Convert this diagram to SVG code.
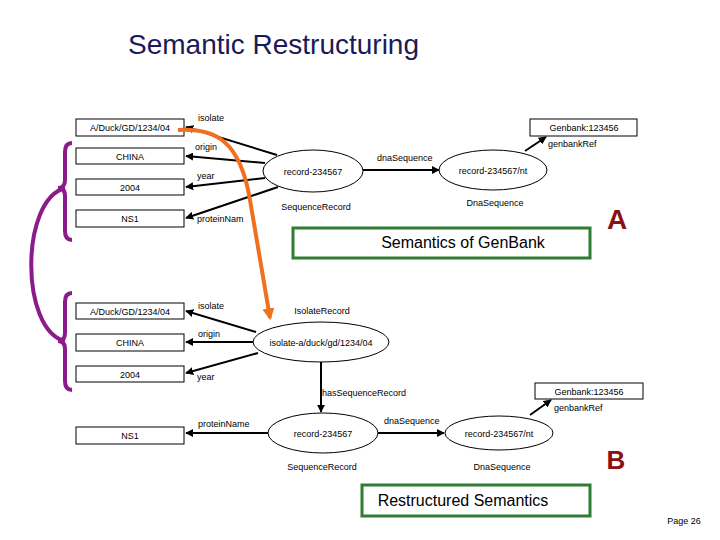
<svg xmlns="http://www.w3.org/2000/svg" width="720" height="540" viewBox="0 0 720 540">
<style>
text{font-family:"Liberation Sans",Arial,sans-serif;fill:#000}
.s{font-size:9px}
.m{font-size:9px;text-anchor:middle}
.box{fill:#fff;stroke:#000;stroke-width:1}
.ell{fill:#fff;stroke:#000;stroke-width:1}
.e{stroke:#000;stroke-width:2;fill:none;marker-end:url(#ah)}
.g{fill:#fff;stroke:#2e7d32;stroke-width:3}
.br{fill:none;stroke:#8b1a8b;stroke-width:4}
</style>
<defs>
<marker id="ah" viewBox="0 0 10 10" refX="9" refY="5" markerWidth="4" markerHeight="4" orient="auto"><path d="M0,0L10,5L0,10z" fill="#000"/></marker>
<marker id="oh" viewBox="0 0 10 10" refX="8" refY="5" markerWidth="3" markerHeight="3" orient="auto"><path d="M0,0L10,5L0,10z" fill="#f07020"/></marker>
</defs>
<rect width="720" height="540" fill="#fff"/>
<text x="128" y="54" style="font-size:28px;fill:#1a1a5a">Semantic Restructuring</text>
<g id="connectors">
<line class="e" x1="277" y1="155" x2="186" y2="127"/>
<line class="e" x1="265" y1="163" x2="186" y2="156"/>
<line class="e" x1="265" y1="178" x2="186" y2="187"/>
<line class="e" x1="278" y1="187" x2="186" y2="218"/>
<line class="e" x1="363" y1="170" x2="439" y2="170"/>
<line class="e" x1="525" y1="151" x2="546" y2="137"/>
<line class="e" x1="256" y1="332" x2="186" y2="311"/>
<line class="e" x1="253" y1="342" x2="186" y2="342"/>
<line class="e" x1="258" y1="353" x2="186" y2="373"/>
<line class="e" x1="321" y1="362" x2="321" y2="412"/>
<line class="e" x1="268" y1="433" x2="186" y2="433"/>
<line class="e" x1="378" y1="433" x2="444" y2="433"/>
<line class="e" x1="530" y1="415" x2="551" y2="400"/>
</g>
<g id="top-duck"><rect class="box" x="76" y="119" width="108" height="17"/><text class="m" x="130" y="131">A/Duck/GD/1234/04</text></g>
<g id="top-china"><rect class="box" x="76" y="148" width="108" height="16"/><text class="m" x="130" y="160">CHINA</text></g>
<g id="top-2004"><rect class="box" x="76" y="179" width="108" height="16"/><text class="m" x="130" y="191">2004</text></g>
<g id="top-ns1"><rect class="box" x="76" y="210" width="108" height="17"/><text class="m" x="130" y="222">NS1</text></g>
<g id="top-labels"><text class="s" x="198" y="121">isolate</text><text class="s" x="195" y="150">origin</text><text class="s" x="197" y="179">year</text><text class="s" x="197" y="222">proteinNam</text><text class="s" x="377" y="161">dnaSequence</text><text class="s" x="548" y="147">genbankRef</text></g>
<g id="top-record"><ellipse class="ell" cx="313" cy="171" rx="50" ry="21"/><text class="m" x="313" y="175">record-234567</text><text class="m" x="316" y="210">SequenceRecord</text></g>
<g id="top-nt"><ellipse class="ell" cx="493" cy="170" rx="54" ry="20"/><text class="m" x="493" y="174">record-234567/nt</text><text class="m" x="495" y="206">DnaSequence</text></g>
<g id="top-genbank"><rect class="box" x="530" y="119" width="107" height="17"/><text class="m" x="584" y="131">Genbank:123456</text></g>
<g id="caption-a"><rect class="g" x="293" y="228" width="297" height="30"/><text x="463" y="248" style="font-size:16px;text-anchor:middle">Semantics of GenBank</text><text x="617" y="229" style="font-size:28px;font-weight:bold;fill:#8b1010;text-anchor:middle">A</text></g>
<g id="bot-duck"><rect class="box" x="76" y="303" width="108" height="16"/><text class="m" x="130" y="315">A/Duck/GD/1234/04</text></g>
<g id="bot-china"><rect class="box" x="76" y="334" width="108" height="17"/><text class="m" x="130" y="346">CHINA</text></g>
<g id="bot-2004"><rect class="box" x="76" y="366" width="108" height="16"/><text class="m" x="130" y="378">2004</text></g>
<g id="bot-ns1"><rect class="box" x="76" y="427" width="108" height="17"/><text class="m" x="130" y="439">NS1</text></g>
<g id="bot-labels"><text class="s" x="198" y="309">isolate</text><text class="s" x="198" y="337">origin</text><text class="s" x="197" y="380">year</text><text class="s" x="198" y="427">proteinName</text><text class="s" x="322" y="396">hasSequenceRecord</text><text class="s" x="384" y="424">dnaSequence</text><text class="s" x="554" y="411">genbankRef</text></g>
<g id="bot-isolate"><ellipse class="ell" cx="321" cy="342" rx="68" ry="20"/><text class="m" x="321" y="346">isolate-a/duck/gd/1234/04</text><text class="m" x="322" y="314">IsolateRecord</text></g>
<g id="bot-record"><ellipse class="ell" cx="323" cy="433" rx="55" ry="20"/><text class="m" x="323" y="437">record-234567</text><text class="m" x="322" y="470">SequenceRecord</text></g>
<g id="bot-nt"><ellipse class="ell" cx="499" cy="433" rx="54" ry="17"/><text class="m" x="499" y="437">record-234567/nt</text><text class="m" x="502" y="470">DnaSequence</text></g>
<g id="bot-genbank"><rect class="box" x="535" y="383" width="108" height="16"/><text class="m" x="589" y="395">Genbank:123456</text></g>
<g id="caption-b"><rect class="g" x="362" y="485" width="228" height="31"/><text x="463" y="506" style="font-size:16px;text-anchor:middle">Restructured Semantics</text><text x="616" y="469" style="font-size:26px;font-weight:bold;fill:#8b1010;text-anchor:middle">B</text></g>
<g id="braces">
<path class="br" d="M72,143 Q65,143 65,152 L65,180 Q65,188 58,188 Q65,188 65,196 L65,231 Q65,240 72,240"/>
<path class="br" d="M72,293 Q65,293 65,302 L65,333 Q65,341 58,341 Q65,341 65,349 L65,381 Q65,390 72,390"/>
<path class="br" d="M65,188 C20,200 20,330 65,341"/>
</g>
<path d="M178,130 C215,128 240,140 250,200 L270,318" fill="none" stroke="#f07020" stroke-width="4" marker-end="url(#oh)"/>
<text x="684" y="524" style="font-size:9px;text-anchor:middle">Page 26</text>
</svg>
